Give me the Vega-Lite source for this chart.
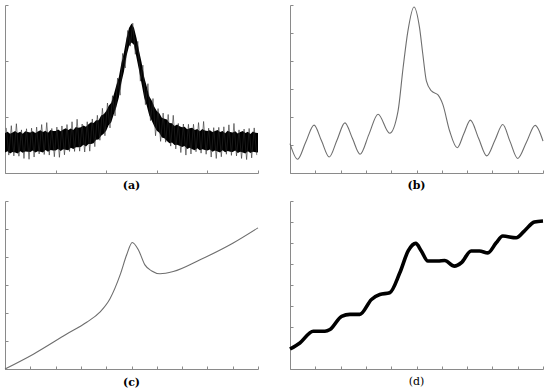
{
  "$schema": "https://vega.github.io/schema/vega-lite/v6.json",
  "background": "white",
  "padding": {"left": 2, "top": 4, "right": 5, "bottom": 2},
  "bounds": "flush",
  "columns": 2,
  "spacing": {"row": 28, "column": 32},
  "config": {
    "view": {"stroke": null},
    "axis": {"labels": false, "title": null, "grid": false, "domainColor": "#8a8a8a", "tickColor": "#8a8a8a", "tickSize": -3, "domainWidth": 1, "tickWidth": 1},
    "title": {"font": "DejaVu Serif", "fontSize": 11, "color": "black", "orient": "bottom", "anchor": "middle", "offset": 6}
  },
  "datasets": {
    "a": [
      {"x": 0.0, "lo": 0.73, "hi": 1.43, "xs": 0.05, "s": 1.61}, {"x": 0.1, "lo": 0.78, "hi": 1.47, "xs": 0.15, "s": 0.64}, {"x": 0.2, "lo": 0.70, "hi": 1.40, "xs": 0.25, "s": 1.69}, {"x": 0.3, "lo": 0.75, "hi": 1.45, "xs": 0.35, "s": 0.61}, {"x": 0.4, "lo": 0.73, "hi": 1.50, "xs": 0.45, "s": 1.76},
      {"x": 0.5, "lo": 0.70, "hi": 1.43, "xs": 0.55, "s": 0.60}, {"x": 0.6, "lo": 0.78, "hi": 1.47, "xs": 0.65, "s": 1.54}, {"x": 0.7, "lo": 0.72, "hi": 1.40, "xs": 0.75, "s": 0.52}, {"x": 0.8, "lo": 0.77, "hi": 1.49, "xs": 0.85, "s": 1.58}, {"x": 0.9, "lo": 0.76, "hi": 1.46, "xs": 0.95, "s": 0.49},
      {"x": 1.0, "lo": 0.75, "hi": 1.45, "xs": 1.05, "s": 1.60}, {"x": 1.1, "lo": 0.80, "hi": 1.49, "xs": 1.15, "s": 0.57}, {"x": 1.2, "lo": 0.73, "hi": 1.43, "xs": 1.25, "s": 1.64}, {"x": 1.3, "lo": 0.78, "hi": 1.48, "xs": 1.35, "s": 0.68}, {"x": 1.4, "lo": 0.76, "hi": 1.53, "xs": 1.45, "s": 1.73},
      {"x": 1.5, "lo": 0.73, "hi": 1.46, "xs": 1.55, "s": 0.66}, {"x": 1.6, "lo": 0.82, "hi": 1.51, "xs": 1.65, "s": 1.80}, {"x": 1.7, "lo": 0.76, "hi": 1.44, "xs": 1.75, "s": 0.64}, {"x": 1.8, "lo": 0.82, "hi": 1.54, "xs": 1.85, "s": 1.59}, {"x": 1.9, "lo": 0.80, "hi": 1.50, "xs": 1.95, "s": 0.58},
      {"x": 2.0, "lo": 0.80, "hi": 1.50, "xs": 2.05, "s": 1.64}, {"x": 2.1, "lo": 0.86, "hi": 1.55, "xs": 2.15, "s": 0.56}, {"x": 2.2, "lo": 0.79, "hi": 1.49, "xs": 2.25, "s": 1.68}, {"x": 2.3, "lo": 0.85, "hi": 1.55, "xs": 2.35, "s": 0.65}, {"x": 2.4, "lo": 0.83, "hi": 1.60, "xs": 2.45, "s": 1.73},
      {"x": 2.5, "lo": 0.81, "hi": 1.54, "xs": 2.55, "s": 0.77}, {"x": 2.6, "lo": 0.90, "hi": 1.59, "xs": 2.65, "s": 1.83}, {"x": 2.7, "lo": 0.86, "hi": 1.54, "xs": 2.75, "s": 0.77}, {"x": 2.8, "lo": 0.92, "hi": 1.64, "xs": 2.85, "s": 1.92}, {"x": 2.9, "lo": 0.92, "hi": 1.62, "xs": 2.95, "s": 0.78},
      {"x": 3.0, "lo": 0.93, "hi": 1.63, "xs": 3.05, "s": 1.75}, {"x": 3.1, "lo": 1.01, "hi": 1.70, "xs": 3.15, "s": 0.75}, {"x": 3.2, "lo": 0.95, "hi": 1.65, "xs": 3.25, "s": 1.83}, {"x": 3.3, "lo": 1.04, "hi": 1.74, "xs": 3.35, "s": 0.78}, {"x": 3.4, "lo": 1.04, "hi": 1.81, "xs": 3.45, "s": 1.93},
      {"x": 3.5, "lo": 1.06, "hi": 1.79, "xs": 3.55, "s": 0.94}, {"x": 3.6, "lo": 1.19, "hi": 1.88, "xs": 3.65, "s": 2.06}, {"x": 3.7, "lo": 1.20, "hi": 1.88, "xs": 3.75, "s": 1.17}, {"x": 3.8, "lo": 1.33, "hi": 2.05, "xs": 3.85, "s": 2.31}, {"x": 3.9, "lo": 1.40, "hi": 2.10, "xs": 3.95, "s": 1.33},
      {"x": 4.0, "lo": 1.51, "hi": 2.21, "xs": 4.05, "s": 2.50}, {"x": 4.1, "lo": 1.71, "hi": 2.40, "xs": 4.15, "s": 1.61}, {"x": 4.2, "lo": 1.81, "hi": 2.51, "xs": 4.25, "s": 2.76}, {"x": 4.3, "lo": 2.10, "hi": 2.80, "xs": 4.35, "s": 2.04}, {"x": 4.4, "lo": 2.36, "hi": 3.13, "xs": 4.45, "s": 3.39},
      {"x": 4.5, "lo": 2.70, "hi": 3.43, "xs": 4.55, "s": 2.78}, {"x": 4.6, "lo": 3.23, "hi": 3.92, "xs": 4.65, "s": 4.27}, {"x": 4.7, "lo": 3.62, "hi": 4.30, "xs": 4.75, "s": 3.75}, {"x": 4.8, "lo": 4.17, "hi": 4.80, "xs": 4.85, "s": 5.09}, {"x": 4.9, "lo": 4.53, "hi": 5.18, "xs": 4.95, "s": 4.53},
      {"x": 5.0, "lo": 4.66, "hi": 5.34, "xs": 5.05, "s": 5.35}, {"x": 5.1, "lo": 4.57, "hi": 5.18, "xs": 5.15, "s": 4.24}, {"x": 5.2, "lo": 4.11, "hi": 4.81, "xs": 5.25, "s": 4.70}, {"x": 5.3, "lo": 3.66, "hi": 4.36, "xs": 5.35, "s": 3.28}, {"x": 5.4, "lo": 3.18, "hi": 3.95, "xs": 5.45, "s": 3.85},
      {"x": 5.5, "lo": 2.70, "hi": 3.43, "xs": 5.55, "s": 2.44}, {"x": 5.6, "lo": 2.41, "hi": 3.10, "xs": 5.65, "s": 3.19}, {"x": 5.7, "lo": 2.06, "hi": 2.74, "xs": 5.75, "s": 1.87}, {"x": 5.8, "lo": 1.87, "hi": 2.59, "xs": 5.85, "s": 2.66}, {"x": 5.9, "lo": 1.67, "hi": 2.37, "xs": 5.95, "s": 1.33},
      {"x": 6.0, "lo": 1.51, "hi": 2.21, "xs": 6.05, "s": 2.30}, {"x": 6.1, "lo": 1.44, "hi": 2.13, "xs": 6.15, "s": 1.13}, {"x": 6.2, "lo": 1.27, "hi": 1.97, "xs": 6.25, "s": 2.14}, {"x": 6.3, "lo": 1.24, "hi": 1.94, "xs": 6.35, "s": 1.10}, {"x": 6.4, "lo": 1.14, "hi": 1.91, "xs": 6.45, "s": 2.09},
      {"x": 6.5, "lo": 1.06, "hi": 1.79, "xs": 6.55, "s": 0.96}, {"x": 6.6, "lo": 1.09, "hi": 1.78, "xs": 6.65, "s": 2.06}, {"x": 6.7, "lo": 1.00, "hi": 1.68, "xs": 6.75, "s": 0.86}, {"x": 6.8, "lo": 1.01, "hi": 1.73, "xs": 6.85, "s": 1.77}, {"x": 6.9, "lo": 0.97, "hi": 1.67, "xs": 6.95, "s": 0.73},
      {"x": 7.0, "lo": 0.93, "hi": 1.63, "xs": 7.05, "s": 1.75}, {"x": 7.1, "lo": 0.96, "hi": 1.65, "xs": 7.15, "s": 0.64}, {"x": 7.2, "lo": 0.86, "hi": 1.56, "xs": 7.25, "s": 1.74}, {"x": 7.3, "lo": 0.90, "hi": 1.60, "xs": 7.35, "s": 0.68}, {"x": 7.4, "lo": 0.85, "hi": 1.62, "xs": 7.45, "s": 1.74},
      {"x": 7.5, "lo": 0.81, "hi": 1.54, "xs": 7.55, "s": 0.76}, {"x": 7.6, "lo": 0.88, "hi": 1.57, "xs": 7.65, "s": 1.80}, {"x": 7.7, "lo": 0.81, "hi": 1.49, "xs": 7.75, "s": 0.71}, {"x": 7.8, "lo": 0.85, "hi": 1.57, "xs": 7.85, "s": 1.84}, {"x": 7.9, "lo": 0.82, "hi": 1.52, "xs": 7.95, "s": 0.67},
      {"x": 8.0, "lo": 0.80, "hi": 1.50, "xs": 8.05, "s": 1.60}, {"x": 8.1, "lo": 0.84, "hi": 1.53, "xs": 8.15, "s": 0.57}, {"x": 8.2, "lo": 0.76, "hi": 1.46, "xs": 8.25, "s": 1.62}, {"x": 8.3, "lo": 0.80, "hi": 1.50, "xs": 8.35, "s": 0.52}, {"x": 8.4, "lo": 0.77, "hi": 1.54, "xs": 8.45, "s": 1.63},
      {"x": 8.5, "lo": 0.73, "hi": 1.46, "xs": 8.55, "s": 0.58}, {"x": 8.6, "lo": 0.81, "hi": 1.50, "xs": 8.65, "s": 1.65}, {"x": 8.7, "lo": 0.74, "hi": 1.42, "xs": 8.75, "s": 0.67}, {"x": 8.8, "lo": 0.79, "hi": 1.51, "xs": 8.85, "s": 1.72}, {"x": 8.9, "lo": 0.76, "hi": 1.46, "xs": 8.95, "s": 0.63},
      {"x": 9.0, "lo": 0.75, "hi": 1.45, "xs": 9.05, "s": 1.77}, {"x": 9.1, "lo": 0.80, "hi": 1.49, "xs": 9.15, "s": 0.61}, {"x": 9.2, "lo": 0.71, "hi": 1.41, "xs": 9.25, "s": 1.54}, {"x": 9.3, "lo": 0.76, "hi": 1.46, "xs": 9.35, "s": 0.52}, {"x": 9.4, "lo": 0.73, "hi": 1.50, "xs": 9.45, "s": 1.57},
      {"x": 9.5, "lo": 0.70, "hi": 1.43, "xs": 9.55, "s": 0.48}, {"x": 9.6, "lo": 0.78, "hi": 1.47, "xs": 9.65, "s": 1.59}, {"x": 9.7, "lo": 0.71, "hi": 1.39, "xs": 9.75, "s": 0.54}, {"x": 9.8, "lo": 0.76, "hi": 1.48, "xs": 9.85, "s": 1.61}, {"x": 9.9, "lo": 0.74, "hi": 1.44, "xs": 9.95, "s": 0.64},
      {"x": 10.0, "lo": 0.73, "hi": 1.43}
    ],
    "b": [
      {"x": 0, "y": 1.05}, {"x": 0.30, "y": 0.49}, {"x": 0.62, "y": 1.10}, {"x": 0.95, "y": 1.71}, {"x": 1.25, "y": 1.14},
      {"x": 1.55, "y": 0.57}, {"x": 1.86, "y": 1.18}, {"x": 2.17, "y": 1.79}, {"x": 2.47, "y": 1.23}, {"x": 2.77, "y": 0.67},
      {"x": 3.12, "y": 1.38}, {"x": 3.48, "y": 2.10}, {"x": 3.94, "y": 1.42}, {"x": 4.27, "y": 2.21}, {"x": 4.47, "y": 3.76},
      {"x": 4.66, "y": 5.07}, {"x": 4.90, "y": 5.93}, {"x": 5.12, "y": 5.19}, {"x": 5.25, "y": 4.24}, {"x": 5.39, "y": 3.29},
      {"x": 5.59, "y": 2.93}, {"x": 5.85, "y": 2.79}, {"x": 6.04, "y": 2.45}, {"x": 6.31, "y": 1.50}, {"x": 6.61, "y": 0.90},
      {"x": 6.87, "y": 1.40}, {"x": 7.13, "y": 1.89}, {"x": 7.45, "y": 1.25}, {"x": 7.78, "y": 0.61}, {"x": 8.10, "y": 1.17},
      {"x": 8.41, "y": 1.73}, {"x": 8.70, "y": 1.12}, {"x": 9.00, "y": 0.52}, {"x": 9.35, "y": 1.11}, {"x": 9.69, "y": 1.70},
      {"x": 10.0, "y": 1.14}
    ],
    "c": [
      {"x": 0, "y": 0}, {"x": 1.12, "y": 0.53}, {"x": 2.44, "y": 1.25}, {"x": 3.23, "y": 1.67}, {"x": 3.75, "y": 2.03},
      {"x": 4.15, "y": 2.51}, {"x": 4.55, "y": 3.36}, {"x": 4.81, "y": 4.08}, {"x": 5.03, "y": 4.52}, {"x": 5.27, "y": 4.26},
      {"x": 5.53, "y": 3.72}, {"x": 5.80, "y": 3.50}, {"x": 6.13, "y": 3.40}, {"x": 6.65, "y": 3.48}, {"x": 7.71, "y": 3.90},
      {"x": 9.02, "y": 4.50}, {"x": 10.0, "y": 5.04}
    ],
    "d": [
      {"x": 0, "y": 0.95}, {"x": 0.39, "y": 1.24}, {"x": 0.92, "y": 1.80}, {"x": 1.38, "y": 1.80}, {"x": 1.58, "y": 1.88},
      {"x": 2.04, "y": 2.51}, {"x": 2.37, "y": 2.60}, {"x": 2.76, "y": 2.60}, {"x": 3.22, "y": 3.31}, {"x": 3.55, "y": 3.55},
      {"x": 3.94, "y": 3.63}, {"x": 4.34, "y": 4.58}, {"x": 4.67, "y": 5.62}, {"x": 4.97, "y": 5.98}, {"x": 5.19, "y": 5.62},
      {"x": 5.45, "y": 5.14}, {"x": 5.85, "y": 5.14}, {"x": 6.11, "y": 5.17}, {"x": 6.50, "y": 4.90}, {"x": 6.77, "y": 5.06},
      {"x": 7.16, "y": 5.62}, {"x": 7.49, "y": 5.62}, {"x": 7.82, "y": 5.53}, {"x": 8.15, "y": 6.01}, {"x": 8.41, "y": 6.33},
      {"x": 8.94, "y": 6.25}, {"x": 9.26, "y": 6.57}, {"x": 9.66, "y": 7.00}, {"x": 10.0, "y": 7.05}
    ]
  },
  "concat": [
    {
      "width": 253, "height": 168,
      "title": {"text": "(a)", "fontWeight": "bold"},
      "data": {"name": "a"},
      "layer": [
        {
          "mark": {"type": "area", "color": "black", "opacity": 1},
          "encoding": {
            "x": {"field": "x", "type": "quantitative", "scale": {"domain": [0, 10], "nice": false}, "axis": {"values": [0, 1, 2, 3, 4, 5, 6, 7, 8, 9, 10]}},
            "y": {"field": "lo", "type": "quantitative", "scale": {"domain": [0, 6], "nice": false}, "axis": {"values": [0, 1, 2, 3, 4, 5, 6]}},
            "y2": {"field": "hi"}
          }
        },
        {
          "mark": {"type": "line", "color": "#2a2a2a", "strokeWidth": 0.6},
          "encoding": {
            "x": {"field": "xs", "type": "quantitative"},
            "y": {"field": "s", "type": "quantitative"}
          }
        }
      ]
    },
    {
      "width": 253, "height": 168,
      "title": {"text": "(b)", "fontWeight": "bold"},
      "data": {"name": "b"},
      "mark": {"type": "line", "color": "#6e6e6e", "strokeWidth": 1.1, "interpolate": "monotone"},
      "encoding": {
        "x": {"field": "x", "type": "quantitative", "scale": {"domain": [0, 10], "nice": false}, "axis": {"values": [0, 1, 2, 3, 4, 5, 6, 7, 8, 9, 10]}},
        "y": {"field": "y", "type": "quantitative", "scale": {"domain": [0, 6], "nice": false}, "axis": {"values": [0, 1, 2, 3, 4, 5, 6]}}
      }
    },
    {
      "width": 253, "height": 168,
      "title": {"text": "(c)", "fontWeight": "bold"},
      "data": {"name": "c"},
      "mark": {"type": "line", "color": "#6e6e6e", "strokeWidth": 1.1, "interpolate": "monotone"},
      "encoding": {
        "x": {"field": "x", "type": "quantitative", "scale": {"domain": [0, 10], "nice": false}, "axis": {"values": [0, 1, 2, 3, 4, 5, 6, 7, 8, 9, 10]}},
        "y": {"field": "y", "type": "quantitative", "scale": {"domain": [0, 6], "nice": false}, "axis": {"values": [0, 1, 2, 3, 4, 5, 6]}}
      }
    },
    {
      "width": 253, "height": 168,
      "title": {"text": "(d)", "fontWeight": "normal"},
      "data": {"name": "d"},
      "mark": {"type": "line", "color": "black", "strokeWidth": 3.6, "interpolate": "monotone"},
      "encoding": {
        "x": {"field": "x", "type": "quantitative", "scale": {"domain": [0, 10], "nice": false}, "axis": {"values": [0, 1, 2, 3, 4, 5, 6, 7, 8, 9, 10]}},
        "y": {"field": "y", "type": "quantitative", "scale": {"domain": [0, 8], "nice": false}, "axis": {"values": [0, 1, 2, 3, 4, 5, 6, 7, 8]}}
      }
    }
  ]
}
